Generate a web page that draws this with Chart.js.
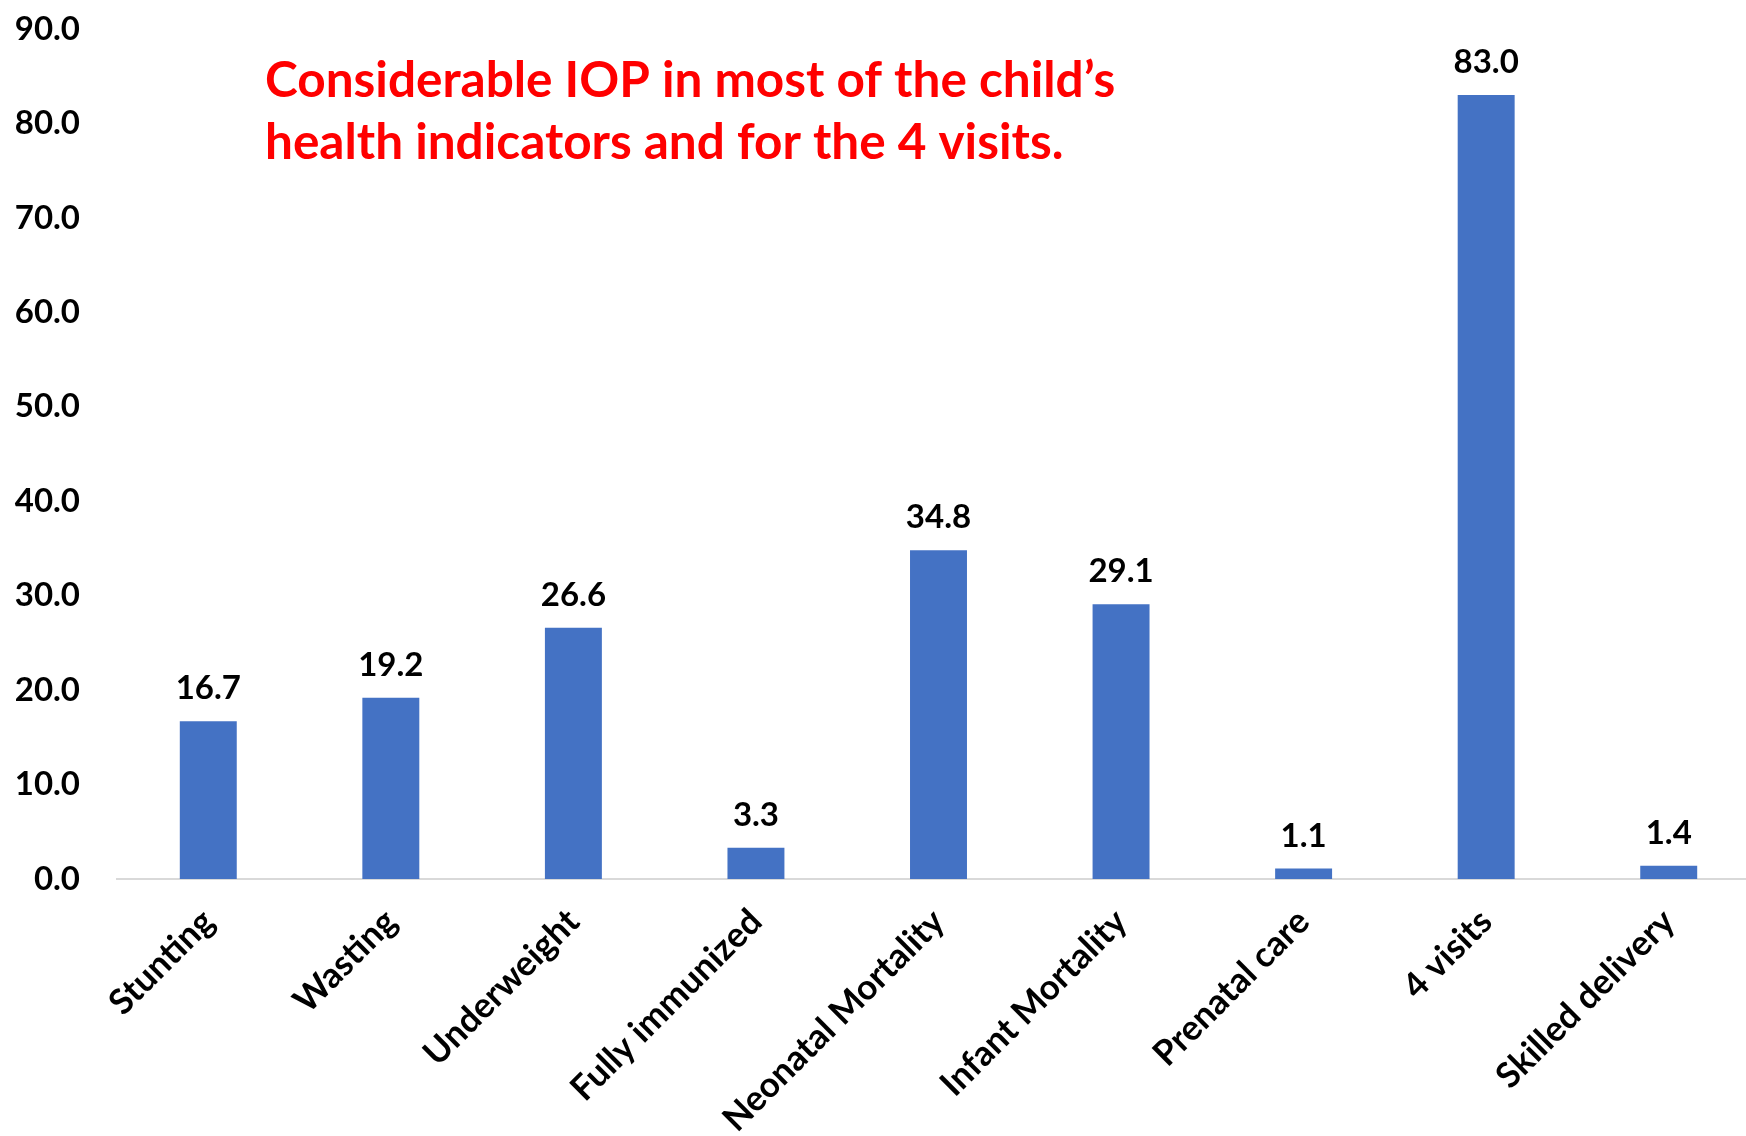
<!DOCTYPE html>
<html>
<head>
<meta charset="utf-8">
<script src="https://cdn.jsdelivr.net/npm/chart.js@4.4.1/dist/chart.umd.min.js"></script>
<style>
  html, body { margin: 0; padding: 0; background: #ffffff; overflow: hidden; }
  #wrap { position: relative; width: 1762px; height: 1136px; }
</style>
</head>
<body>
<div id="wrap"><canvas id="chart" width="1762" height="1136"></canvas></div>
<script>
// Indicator categories along the x axis
const categories = [
  "Stunting", "Wasting", "Underweight", "Fully immunized",
  "Neonatal Mortality", "Infant Mortality", "Prenatal care",
  "4 visits", "Skilled delivery"
];
// IOP value per indicator
const values = [16.7, 19.2, 26.6, 3.3, 34.8, 29.1, 1.1, 83.0, 1.4];
// Value axis range
const yMin = 0;
const yMax = 90;
const yStep = 10;
// Headline drawn inside the plot
const headline = [
  "Considerable IOP in most of the child\u2019s",
  "health indicators and for the 4 visits."
];

const FONT = "Lato, 'Open Sans', sans-serif";

// Value labels above each bar
const valueLabels = {
  id: "valueLabels",
  afterDatasetsDraw(chart) {
    const ctx = chart.ctx;
    const meta = chart.getDatasetMeta(0);
    ctx.save();
    ctx.font = "bold 33px " + FONT;
    ctx.fillStyle = "#000000";
    ctx.textAlign = "center";
    ctx.textBaseline = "alphabetic";
    meta.data.forEach((bar, i) => {
      ctx.fillText(values[i].toFixed(1), bar.x, bar.y - 22);
    });
    ctx.restore();
  }
};

// Red headline text
const headlineText = {
  id: "headlineText",
  afterDraw(chart) {
    const ctx = chart.ctx;
    ctx.save();
    ctx.font = "bold 49.5px " + FONT;
    ctx.fillStyle = "#ff0000";
    ctx.textAlign = "left";
    ctx.textBaseline = "alphabetic";
    ctx.fillText(headline[0], 265, 97);
    ctx.fillText(headline[1], 265, 159);
    ctx.restore();
  }
};

// Keep the plot area fixed: no extra padding reserved for tick labels
function noScalePadding(scale) {
  scale.paddingLeft = 0;
  scale.paddingRight = 0;
  scale.paddingTop = 0;
  scale.paddingBottom = 0;
}

new Chart(document.getElementById("chart"), {
  type: "bar",
  data: {
    labels: categories,
    datasets: [{
      data: values,
      backgroundColor: "#4472C4",
      borderWidth: 0,
      categoryPercentage: 1.0,
      barPercentage: 0.312
    }]
  },
  options: {
    responsive: false,
    animation: false,
    layout: { padding: { top: 29, left: 14, right: 2, bottom: 0 } },
    plugins: {
      legend: { display: false },
      tooltip: { enabled: false },
      title: { display: false }
    },
    scales: {
      x: {
        grid: { display: false, drawTicks: false },
        border: { display: true, color: "#d9d9d9", width: 2 },
        ticks: {
          color: "#000000",
          font: { family: FONT, size: 35, weight: "bold" },
          minRotation: 45,
          maxRotation: 45,
          padding: 22
        },
        afterFit(scale) {
          scale.height = 257;
          noScalePadding(scale);
        }
      },
      y: {
        min: yMin,
        max: yMax,
        grid: { display: false, drawTicks: false },
        border: { display: false },
        ticks: {
          stepSize: yStep,
          color: "#000000",
          font: { family: FONT, size: 33, weight: "bold" },
          padding: 37,
          callback: (v) => Number(v).toFixed(1)
        },
        afterFit(scale) {
          scale.width = 103;
          noScalePadding(scale);
        }
      }
    }
  },
  plugins: [valueLabels, headlineText]
});
</script>
</body>
</html>
